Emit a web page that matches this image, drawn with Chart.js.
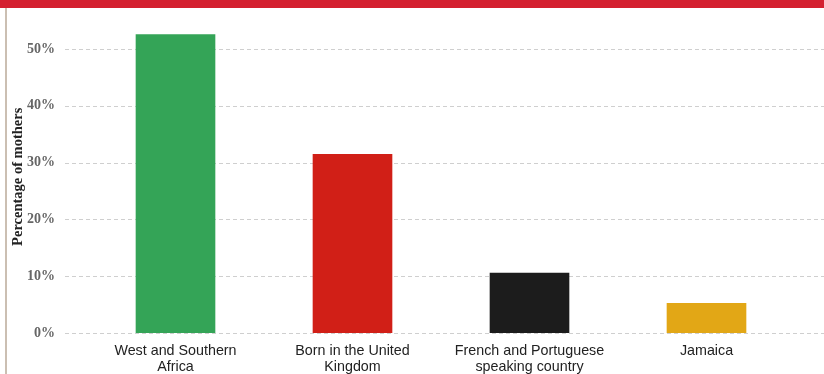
<!DOCTYPE html>
<html>
<head>
<meta charset="utf-8">
<script src="https://cdn.jsdelivr.net/npm/chart.js@4/dist/chart.umd.min.js"></script>
<style>
    html, body { margin: 0; padding: 0; background: #fff; }
    #wrap { width: 824px; height: 374px; position: relative; }
</style>
</head>
<body>
<div id="wrap"><canvas id="myChart" width="824" height="374"></canvas></div>
<script>
// categories and shares of mothers (%)
var regions = [
    ['West and Southern', 'Africa'],
    ['Born in the United', 'Kingdom'],
    ['French and Portuguese', 'speaking country'],
    'Jamaica'
];
var shares = [52.6, 31.5, 10.6, 5.3];
var barColors = ['#34a457', '#d11f17', '#1c1c1c', '#e2a716'];
var tickValues = [0, 10, 20, 30, 40, 50];

// red band on top, thin rule down the left, dashed lines across the page
var frame = {
    id: 'frame',
    beforeDraw: function (chart) {
        var ctx = chart.ctx;
        var y = chart.scales.y;
        ctx.save();
        ctx.fillStyle = '#d42030';
        ctx.fillRect(0, 0, chart.width, 8);
        ctx.fillStyle = '#cbbfb2';
        ctx.fillRect(5, 8, 2, chart.height - 8);
        ctx.strokeStyle = '#cfcfcf';
        ctx.lineWidth = 1;
        ctx.setLineDash([4, 3]);
        tickValues.forEach(function (v) {
            var py = Math.round(y.getPixelForValue(v)) + 0.5;
            ctx.beginPath();
            ctx.moveTo(65, py);
            ctx.lineTo(chart.width, py);
            ctx.stroke();
        });
        ctx.restore();
    }
};

const ctx = document.getElementById('myChart');
const chart = new Chart(ctx, {
    type: 'bar',
    data: {
        labels: regions,
        datasets: [{
            label: 'Percentage of mothers',
            data: shares,
            backgroundColor: barColors,
            barPercentage: 0.45,
            categoryPercentage: 1
        }]
    },
    options: {
        responsive: false,
        animation: false,
        layout: { padding: { left: 0, right: 29, top: 20.6, bottom: 0 } },
        plugins: {
            legend: { display: false },
            tooltip: { enabled: false }
        },
        scales: {
            x: {
                grid: { display: false, drawTicks: false },
                border: { display: false },
                ticks: {
                    padding: 10,
                    maxRotation: 0,
                    color: '#222',
                    font: { family: 'Liberation Sans', size: 14.3, lineHeight: 1.1 }
                },
                afterFit: function (s) { s.height = 41; }
            },
            y: {
                min: 0,
                max: 55,
                // tick marks hidden, their length only pushes the labels left
                grid: { display: false, drawTicks: true, tickLength: 28 },
                border: { display: false },
                afterBuildTicks: function (s) {
                    s.ticks = tickValues.map(function (v) { return { value: v }; });
                },
                ticks: {
                    padding: 4,
                    color: '#666',
                    font: { family: 'Liberation Serif', size: 14, weight: 'bold' },
                    callback: function (v) { return v + '%'; }
                },
                title: {
                    display: true,
                    text: 'Percentage of mothers',
                    color: '#222',
                    padding: { top: 10, bottom: 0 },
                    font: { family: 'Liberation Serif', size: 14.5, weight: 'bold' }
                },
                afterFit: function (s) { s.width = 87; }
            }
        }
    },
    plugins: [frame]
});
</script>
</body>
</html>
